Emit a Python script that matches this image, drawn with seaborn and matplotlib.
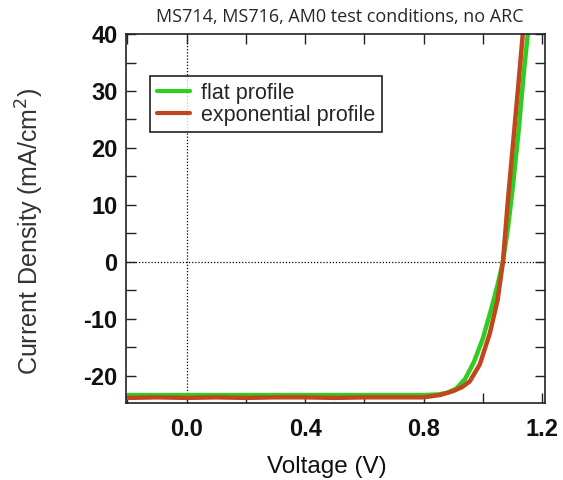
import numpy as np
import pandas as pd
import matplotlib
matplotlib.use("Agg")
import matplotlib.pyplot as plt
import seaborn as sns
from matplotlib.ticker import MultipleLocator, FormatStrFormatter

# Data
flat_v = [-0.2, 0.0, 0.2, 0.4, 0.6, 0.8, 0.85, 0.88, 0.91, 0.94, 0.97, 1.0, 1.03, 1.05, 1.068, 1.085, 1.1, 1.12, 1.14, 1.152, 1.16]
flat_j = [-23.4, -23.4, -23.4, -23.4, -23.4, -23.4, -23.3, -23.0, -22.3, -20.6, -17.6, -13.5, -8.0, -4.0, 0.0, 6.0, 12.5, 22.5, 34.0, 40.0, 45.0]
expo_v = [-0.2, -0.1, 0.0, 0.1, 0.2, 0.3, 0.4, 0.5, 0.6, 0.7, 0.8, 0.855, 0.9, 0.93, 0.956, 0.99, 1.024, 1.05, 1.068, 1.085, 1.1, 1.12, 1.135, 1.145]
expo_j = [-23.9, -23.8, -23.9, -23.8, -23.9, -23.8, -23.8, -23.9, -23.8, -23.8, -23.8, -23.4, -22.7, -22.0, -21.0, -18.0, -12.5, -6.7, 0.0, 10.9, 19.5, 31.0, 40.0, 46.0]
labels = ["flat profile", "exponential profile"]
colors = ["#2fcc22", "#c2461c"]

df = pd.concat([
    pd.DataFrame({"V": flat_v, "J": flat_j, "profile": labels[0]}),
    pd.DataFrame({"V": expo_v, "J": expo_j, "profile": labels[1]}),
], ignore_index=True)

sns.set_theme(style="white")
plt.rcParams["font.family"] = ["Liberation Sans", "DejaVu Sans"]

fig = plt.figure(figsize=(5.63, 4.80), dpi=100)
ax = fig.add_axes([0.2238, 0.1604, 0.7442, 0.7686])

sns.lineplot(data=df, x="V", y="J", hue="profile", hue_order=labels,
             palette=dict(zip(labels, colors)), linewidth=3.2, ax=ax,
             sort=False, estimator=None)

ax.axvline(0, color="black", linestyle=(0, (1, 1.5)), linewidth=0.9, zorder=0)
ax.axhline(0, color="black", linestyle=(0, (1, 1.5)), linewidth=0.9, zorder=0)

ax.set_xlim(-0.205, 1.21)
ax.set_ylim(-24.8, 40)
ax.xaxis.set_major_locator(MultipleLocator(0.4))
ax.xaxis.set_minor_locator(MultipleLocator(0.2))
ax.yaxis.set_major_locator(MultipleLocator(10))
ax.yaxis.set_minor_locator(MultipleLocator(5))
ax.tick_params(which="both", direction="in", top=True, right=True, bottom=True, left=True,
               color="#222222", width=1.0)
ax.tick_params(which="major", length=7, labelsize=17)
ax.tick_params(which="minor", length=7)
ax.tick_params(axis="x", which="major", pad=11)
ax.tick_params(axis="y", which="major", pad=6)
ax.xaxis.set_major_formatter(FormatStrFormatter("%.1f"))
ax.yaxis.set_major_formatter(FormatStrFormatter("%d"))
for lab in ax.get_xticklabels() + ax.get_yticklabels():
    lab.set_fontweight("semibold")
    lab.set_color("#111111")

for s in ax.spines.values():
    s.set_color("#222222")
    s.set_linewidth(1.2)

ax.set_xlabel("Voltage (V)", fontsize=17.5, color="#111111")
ax.xaxis.set_label_coords(0.48, -0.143)
ax.set_ylabel("Current Density (mA/cm$^2$)", fontsize=18, color="#333333")
ax.yaxis.set_label_coords(-0.19, 0.465)
ax.set_title("MS714, MS716, AM0 test conditions, no ARC", fontsize=13,
             family=["Open Sans", "DejaVu Sans"], pad=9, x=0.51)

leg = ax.legend(loc="upper left", bbox_to_anchor=(0.058, 0.886), fontsize=15.5,
                frameon=True, fancybox=False, edgecolor="black", handlelength=1.55,
                handletextpad=0.5, borderpad=0.3, labelspacing=0.05, title=None,
                borderaxespad=0)
leg.get_frame().set_linewidth(1.3)
for line in leg.get_lines():
    line.set_linewidth(3.0)

fig.savefig("out.png", dpi=100)
